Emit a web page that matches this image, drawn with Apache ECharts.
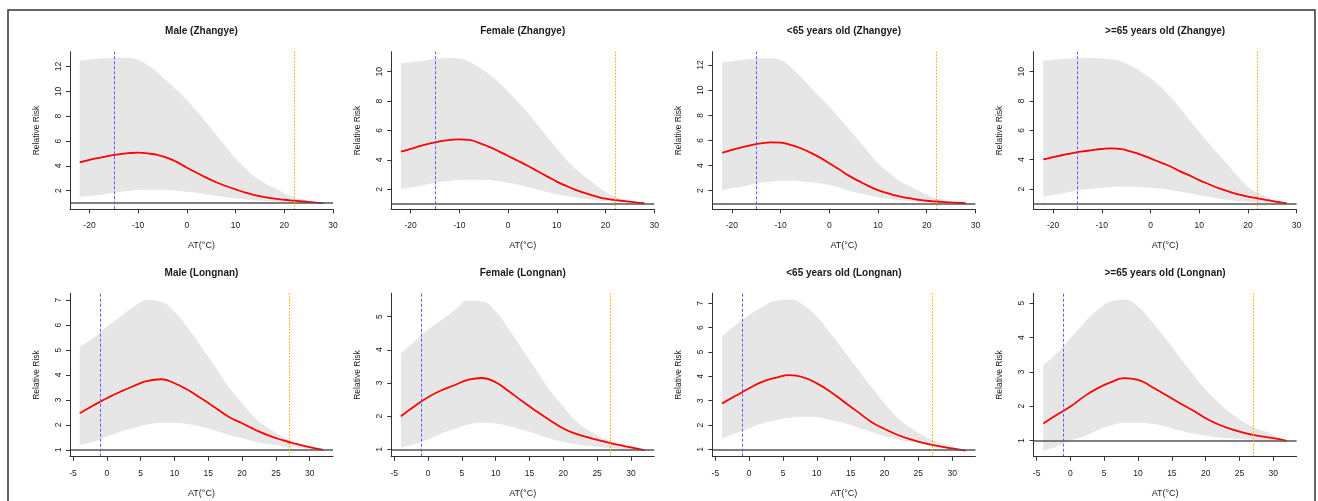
<!DOCTYPE html>
<html>
<head>
<meta charset="utf-8">
<script src="https://cdn.jsdelivr.net/npm/echarts@6/dist/echarts.min.js"></script>
<style>
  html, body { margin: 0; padding: 0; background: #fff; }
  #chart { width: 1318px; height: 501px; }
</style>
</head>
<body>
<div id="chart"></div>
<script>
// temperature grids (AT, °C)
const xTop = [-22, -20, -18, -16, -14, -12, -10, -8, -6, -4, -2, 0, 2, 4, 6, 8, 10, 12, 14, 16, 18, 20, 22, 24, 26, 28];
const xBottom = [-4, -2, 0, 2, 4, 6, 8, 10, 12, 14, 16, 18, 20, 22, 24, 26, 28, 30, 32];

// tick labels
const xTicksTop = [-20, -10, 0, 10, 20, 30];
const xTicksBottom = [-5, 0, 5, 10, 15, 20, 25, 30];
const yTicks12 = [2, 4, 6, 8, 10, 12];
const yTicks10 = [2, 4, 6, 8, 10];
const yTicks7 = [1, 2, 3, 4, 5, 6, 7];
const yTicks5 = [1, 2, 3, 4, 5];

// Zhangye: relative risk, lower and upper CI
const rrMaleZ = [4.28, 4.48, 4.65, 4.8, 4.93, 5.02, 5.06, 5.0, 4.88, 4.65, 4.3, 3.85, 3.45, 3.05, 2.68, 2.38, 2.1, 1.85, 1.64, 1.48, 1.36, 1.27, 1.2, 1.13, 1.06, 1.0];
const hiMaleZ = [12.48, 12.58, 12.65, 12.7, 12.72, 12.7, 12.54, 12.1, 11.5, 10.8, 10.1, 9.3, 8.4, 7.5, 6.5, 5.55, 4.6, 3.8, 3.1, 2.6, 2.2, 1.8, 1.46, 1.28, 1.12, 1.0];
const loMaleZ = [1.52, 1.58, 1.65, 1.78, 1.9, 1.98, 2.05, 2.07, 2.07, 2.04, 2.0, 1.92, 1.84, 1.72, 1.6, 1.48, 1.38, 1.3, 1.22, 1.16, 1.12, 1.09, 1.06, 1.04, 1.02, 1.0];

const rrFemaleZ = [4.56, 4.75, 4.95, 5.12, 5.26, 5.35, 5.4, 5.36, 5.16, 4.9, 4.6, 4.27, 3.94, 3.6, 3.24, 2.88, 2.52, 2.22, 1.95, 1.72, 1.52, 1.36, 1.27, 1.19, 1.11, 1.05];
const hiFemaleZ = [10.57, 10.65, 10.73, 10.83, 10.9, 10.93, 10.89, 10.68, 10.3, 9.85, 9.3, 8.64, 7.95, 7.22, 6.4, 5.58, 4.79, 4.0, 3.36, 2.8, 2.3, 1.84, 1.5, 1.28, 1.14, 1.05];
const loFemaleZ = [2.02, 2.12, 2.23, 2.38, 2.5, 2.57, 2.63, 2.65, 2.65, 2.61, 2.55, 2.45, 2.33, 2.15, 1.98, 1.82, 1.66, 1.55, 1.44, 1.35, 1.26, 1.2, 1.15, 1.1, 1.06, 1.02];

const rrYoungZ = [5.02, 5.25, 5.45, 5.62, 5.76, 5.85, 5.82, 5.65, 5.4, 5.05, 4.65, 4.18, 3.7, 3.2, 2.78, 2.38, 2.05, 1.8, 1.58, 1.42, 1.3, 1.2, 1.14, 1.09, 1.04, 1.0];
const hiYoungZ = [12.2, 12.3, 12.4, 12.48, 12.52, 12.53, 12.4, 11.87, 11.1, 10.3, 9.48, 8.68, 7.8, 6.9, 6.0, 5.1, 4.18, 3.51, 2.9, 2.45, 2.05, 1.7, 1.39, 1.2, 1.08, 1.0];
const loYoungZ = [2.05, 2.2, 2.32, 2.5, 2.65, 2.72, 2.8, 2.8, 2.76, 2.68, 2.6, 2.45, 2.25, 2.02, 1.82, 1.65, 1.47, 1.36, 1.26, 1.18, 1.11, 1.07, 1.05, 1.03, 1.01, 1.0];

const rrOldZ = [4.02, 4.18, 4.32, 4.45, 4.56, 4.65, 4.73, 4.77, 4.72, 4.55, 4.35, 4.09, 3.82, 3.55, 3.22, 2.93, 2.61, 2.33, 2.06, 1.84, 1.64, 1.48, 1.37, 1.25, 1.13, 1.02];
const hiOldZ = [10.75, 10.8, 10.86, 10.89, 10.91, 10.93, 10.9, 10.84, 10.7, 10.4, 10.0, 9.55, 9.0, 8.3, 7.55, 6.7, 5.9, 5.11, 4.35, 3.6, 2.84, 2.16, 1.75, 1.45, 1.2, 1.02];
const loOldZ = [1.48, 1.6, 1.7, 1.84, 1.95, 2.02, 2.09, 2.13, 2.15, 2.16, 2.13, 2.09, 2.03, 1.94, 1.83, 1.71, 1.59, 1.48, 1.36, 1.26, 1.19, 1.14, 1.1, 1.07, 1.04, 1.02];

// Longnan: relative risk, lower and upper CI
const rrMaleL = [2.47, 2.78, 3.07, 3.33, 3.56, 3.76, 3.83, 3.67, 3.4, 3.06, 2.7, 2.33, 2.07, 1.8, 1.57, 1.39, 1.24, 1.11, 1.0];
const hiMaleL = [5.13, 5.47, 5.93, 6.33, 6.73, 7.0, 6.93, 6.53, 5.87, 5.12, 4.33, 3.53, 2.87, 2.27, 1.85, 1.53, 1.3, 1.11, 1.0];
const loMaleL = [1.2, 1.33, 1.53, 1.73, 1.88, 2.02, 2.09, 2.09, 2.04, 1.93, 1.78, 1.6, 1.47, 1.33, 1.24, 1.16, 1.1, 1.05, 1.0];

const rrFemaleL = [2.0, 2.3, 2.57, 2.78, 2.94, 3.1, 3.15, 3.02, 2.74, 2.44, 2.15, 1.88, 1.63, 1.46, 1.34, 1.24, 1.14, 1.06, 0.98];
const hiFemaleL = [3.89, 4.25, 4.6, 4.9, 5.2, 5.48, 5.45, 5.15, 4.6, 3.99, 3.39, 2.79, 2.29, 1.83, 1.55, 1.33, 1.18, 1.08, 0.98];
const loFemaleL = [1.05, 1.16, 1.3, 1.48, 1.62, 1.75, 1.8, 1.78, 1.7, 1.59, 1.46, 1.33, 1.23, 1.15, 1.1, 1.06, 1.03, 1.0, 0.98];

const rrYoungL = [2.89, 3.2, 3.51, 3.78, 3.95, 4.05, 3.96, 3.71, 3.37, 2.96, 2.55, 2.14, 1.84, 1.59, 1.4, 1.25, 1.13, 1.04, 0.95];
const hiYoungL = [5.66, 6.11, 6.52, 6.86, 7.1, 7.14, 6.93, 6.45, 5.77, 5.05, 4.3, 3.58, 2.89, 2.27, 1.87, 1.52, 1.28, 1.11, 0.95];
const loYoungL = [1.45, 1.66, 1.86, 2.07, 2.2, 2.3, 2.34, 2.32, 2.21, 2.08, 1.9, 1.73, 1.55, 1.41, 1.3, 1.2, 1.11, 1.04, 0.95];

const rrOldL = [1.5, 1.75, 1.99, 2.28, 2.52, 2.7, 2.82, 2.77, 2.57, 2.34, 2.11, 1.89, 1.65, 1.46, 1.32, 1.21, 1.13, 1.07, 0.99];
const hiOldL = [3.2, 3.54, 3.98, 4.42, 4.8, 5.05, 5.1, 4.9, 4.47, 3.99, 3.47, 2.96, 2.48, 2.09, 1.76, 1.5, 1.32, 1.17, 0.99];
const loOldL = [0.71, 0.83, 1.0, 1.12, 1.3, 1.44, 1.52, 1.52, 1.49, 1.41, 1.3, 1.21, 1.14, 1.09, 1.06, 1.03, 1.01, 1.0, 0.99];

const panels = [
  { title: 'Male (Zhangye)', x: xTop, rr: rrMaleZ, lo: loMaleZ, hi: hiMaleZ, xr: [-24, 30], yr: [0.5, 13.2], xt: xTicksTop, yt: yTicks12, cold: -15, hot: 22 },
  { title: 'Female (Zhangye)', x: xTop, rr: rrFemaleZ, lo: loFemaleZ, hi: hiFemaleZ, xr: [-24, 30], yr: [0.64, 11.36], xt: xTicksTop, yt: yTicks10, cold: -15, hot: 22 },
  { title: '<65 years old (Zhangye)', x: xTop, rr: rrYoungZ, lo: loYoungZ, hi: hiYoungZ, xr: [-24, 30], yr: [0.52, 13.06], xt: xTicksTop, yt: yTicks12, cold: -15, hot: 22 },
  { title: '>=65 years old (Zhangye)', x: xTop, rr: rrOldZ, lo: loOldZ, hi: hiOldZ, xr: [-24, 30], yr: [0.62, 11.36], xt: xTicksTop, yt: yTicks10, cold: -15, hot: 22 },
  { title: 'Male (Longnan)', x: xBottom, rr: rrMaleL, lo: loMaleL, hi: hiMaleL, xr: [-5.44, 33.44], yr: [0.73, 7.27], xt: xTicksBottom, yt: yTicks7, cold: -1, hot: 27 },
  { title: 'Female (Longnan)', x: xBottom, rr: rrFemaleL, lo: loFemaleL, hi: hiFemaleL, xr: [-5.44, 33.44], yr: [0.78, 5.7], xt: xTicksBottom, yt: yTicks5, cold: -1, hot: 27 },
  { title: '<65 years old (Longnan)', x: xBottom, rr: rrYoungL, lo: loYoungL, hi: hiYoungL, xr: [-5.44, 33.44], yr: [0.7, 7.41], xt: xTicksBottom, yt: yTicks7, cold: -1, hot: 27 },
  { title: '>=65 years old (Longnan)', x: xBottom, rr: rrOldL, lo: loOldL, hi: hiOldL, xr: [-5.44, 33.44], yr: [0.53, 5.29], xt: xTicksBottom, yt: yTicks5, cold: -1, hot: 27 }
];

const font = "'Liberation Sans', Arial, sans-serif";
const axisColor = '#333';
const textColor = '#1a1a1a';

const titles = [], grids = [], xAxes = [], yAxes = [], series = [];

panels.forEach((p, i) => {
  const col = i % 4;
  const row = Math.floor(i / 4);
  const left = 70 + col * 321.2;
  const width = 263;
  const top = row === 0 ? 51.7 : 293.3;
  const height = row === 0 ? 157.6 : 163.4;

  titles.push({
    text: p.title,
    left: left + width / 2,
    top: row === 0 ? 26 : 268,
    textAlign: 'center',
    padding: 0,
    textStyle: { fontFamily: font, fontSize: 10, fontWeight: 'bold', color: textColor }
  });

  grids.push({ left: left, top: top, width: width, height: height });

  xAxes.push({
    gridIndex: i,
    type: 'value',
    z: 5,
    min: p.xr[0],
    max: p.xr[1],
    name: 'AT(°C)',
    nameLocation: 'middle',
    nameGap: 32,
    nameTextStyle: { fontFamily: font, fontSize: 9, color: textColor },
    axisLine: { onZero: false, lineStyle: { color: axisColor, width: 1 } },
    axisTick: { customValues: p.xt, length: 4, lineStyle: { color: axisColor } },
    axisLabel: { customValues: p.xt, margin: 12, fontFamily: font, fontSize: 8.5, color: textColor },
    splitLine: { show: false }
  });

  yAxes.push({
    gridIndex: i,
    type: 'value',
    z: 5,
    min: p.yr[0],
    max: p.yr[1],
    name: 'Relative Risk',
    nameLocation: 'middle',
    nameRotate: 90,
    nameGap: 29,
    nameTextStyle: { fontFamily: font, fontSize: 8.5, color: textColor },
    axisLine: { onZero: false, lineStyle: { color: axisColor, width: 1 } },
    axisTick: { customValues: p.yt, length: 4, lineStyle: { color: axisColor } },
    axisLabel: { customValues: p.yt, rotate: 90, margin: 7, fontFamily: font, fontSize: 8.5, color: textColor },
    splitLine: { show: false }
  });

  // confidence band: grey area under the upper bound, white area under the lower bound
  series.push({
    type: 'line',
    xAxisIndex: i,
    yAxisIndex: i,
    z: 1,
    smooth: true,
    symbol: 'none',
    silent: true,
    lineStyle: { width: 0, opacity: 0 },
    areaStyle: { color: '#e6e6e6', opacity: 1, origin: 'start' },
    data: p.x.map((v, k) => [v, p.hi[k]])
  });
  series.push({
    type: 'line',
    xAxisIndex: i,
    yAxisIndex: i,
    z: 2,
    smooth: true,
    symbol: 'none',
    silent: true,
    lineStyle: { width: 0, opacity: 0 },
    areaStyle: { color: '#ffffff', opacity: 1, origin: 'start' },
    data: p.x.map((v, k) => [v, p.lo[k]])
  });

  series.push({
    type: 'line',
    xAxisIndex: i,
    yAxisIndex: i,
    z: 3,
    smooth: true,
    symbol: 'none',
    silent: true,
    lineStyle: { color: '#ff0000', width: 1.8 },
    data: p.x.map((v, k) => [v, p.rr[k]]),
    markLine: {
      silent: true,
      symbol: ['none', 'none'],
      label: { show: false },
      data: [
        { yAxis: 1, lineStyle: { color: '#555', width: 1.5, type: 'solid' } },
        { xAxis: p.cold, lineStyle: { color: '#5a5aff', width: 1, type: [3, 2] } },
        { xAxis: p.hot, lineStyle: { color: '#ffa500', width: 1, type: [1.5, 1.5] } }
      ]
    }
  });
});

const chart = echarts.init(document.getElementById('chart'));
chart.setOption({
  animation: false,
  backgroundColor: '#fff',
  title: titles,
  grid: grids,
  xAxis: xAxes,
  yAxis: yAxes,
  series: series,
  graphic: [{
    type: 'rect',
    shape: { x: 8, y: 10, width: 1307, height: 520 },
    style: { fill: null, stroke: '#333', lineWidth: 1.5 },
    silent: true
  }]
});
</script>
</body>
</html>
